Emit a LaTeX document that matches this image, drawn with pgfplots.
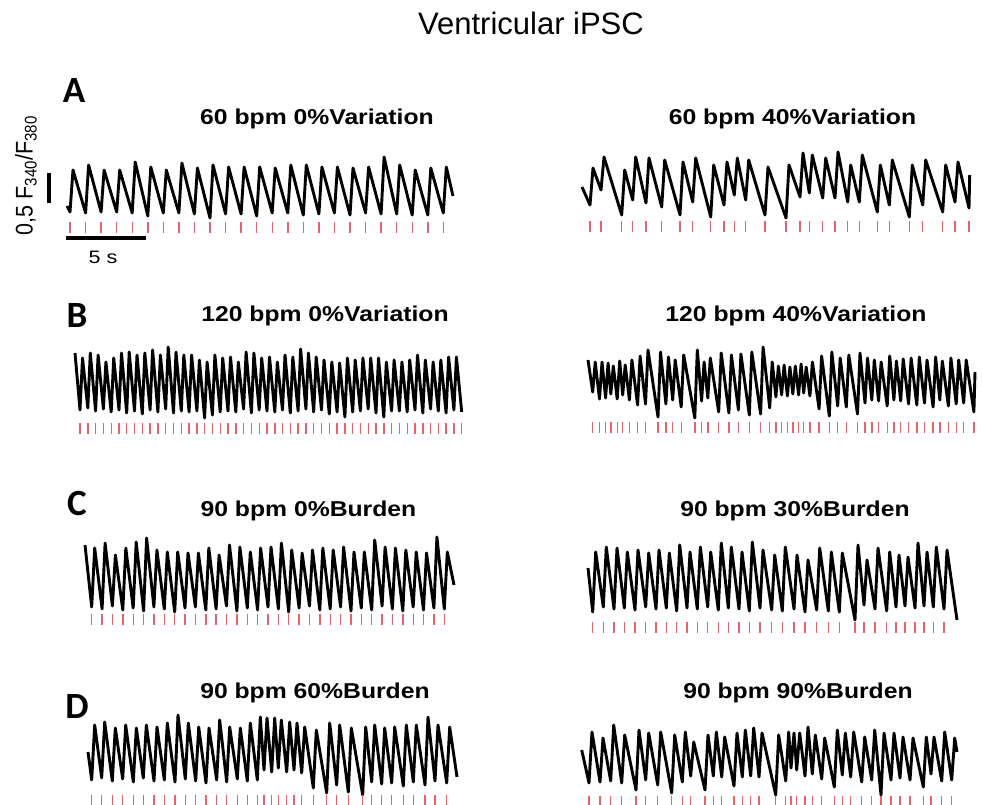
\documentclass[border=0pt]{standalone}
\usepackage{fontspec}
\setmainfont{Liberation Sans}
\newfontfamily\carlito{Carlito}
\usepackage{graphicx}
\usepackage{pgfplots}
\pgfplotsset{compat=1.18}
\definecolor{stim}{RGB}{236,98,108}

\newcommand{\ptitle}[1]{\scalebox{1.15}[1]{\fontsize{21.5bp}{24bp}\selectfont\bfseries #1}}
\newcommand{\plabel}[1]{\fontsize{37bp}{40bp}\selectfont\carlito\bfseries #1}

\pgfplotsset{
  trace/.style={black, line width=2.9bp, line join=round, mark=none},
  stimticks/.style={stim, only marks, mark=|, mark size=5.5bp, mark options={line width=1.4bp}},
}

\begin{document}
\begin{tikzpicture}
\begin{axis}[
    width=982bp, height=805bp, scale only axis,
    xmin=0, xmax=982, ymin=0, ymax=805,
    y dir=reverse, hide axis,
]

% scale bars
\addplot[black, line width=3.5bp] coordinates {(49,173) (49,203)};
\addplot[black, line width=3.5bp] coordinates {(66,238) (146,238)};

% ---- A: 60 bpm 0% variation
\addplot[trace] coordinates {
(67,206)(70,212)(73,170)(85.6,213)(88.6,165)(101.1,212)(104.1,170)(116.7,212)(119.7,170)
(132.2,213)(135.2,162)(147.8,216)(150.8,167)(163.3,213)(166.3,170)(178.9,213)(181.9,163)
(194.4,214)(197.4,168)(210,218)(213,165)(225.6,214)(228.6,167)(241.1,214)(244.1,167)
(256.7,216)(259.7,167)(272.2,213)(275.2,168)(287.8,213)(290.8,165)(303.3,215)(306.3,165)
(318.9,214)(321.9,167)(334.4,213)(337.4,167)(350,215)(353,168)(365.6,213)(368.6,167)
(381.1,214)(384.1,157)(396.7,214)(399.7,165)(412.2,215)(415.2,170)(427.8,215)(430.8,168)
(443.3,213)(446.3,167)(453,196)};
\addplot[stimticks] coordinates {
(70,227.5)(85.6,227.5)(101.1,227.5)(116.7,227.5)(132.2,227.5)(147.8,227.5)(163.3,227.5)
(178.9,227.5)(194.4,227.5)(210,227.5)(225.6,227.5)(241.1,227.5)(256.7,227.5)(272.2,227.5)
(287.8,227.5)(303.3,227.5)(318.9,227.5)(334.4,227.5)(350,227.5)(365.6,227.5)(381.1,227.5)
(396.7,227.5)(412.2,227.5)(427.8,227.5)(443.3,227.5)};

% ---- A: 60 bpm 40% variation
\addplot[trace] coordinates {
(582,187)(590,205)(593,168)(601,190)(604,157)(621.7,215)(624.7,170)(632.7,200)(635.7,157)
(646,203)(649,158)(661.7,207)(664.7,160)(680,215)(683,162)(692.7,202)(695.7,158)
(710.7,217)(713.7,165)(724,205)(727,162)(734.3,195)(737.3,158)(745.7,200)(748.7,160)
(765,215)(768,167)(786,218)(789,165)(800,197)(803,153)(809.3,193)(812.3,155)
(822.7,198)(825.7,158)(835,198)(838,152)(847.7,202)(850.7,165)(859.3,202)(862.3,155)
(877.3,212)(880.3,165)(889.3,205)(892.3,160)(909.3,217)(912.3,165)(922.7,205)(925.7,160)
(942.7,212)(945.7,165)(955,202)(958,162)(969,208)(969.7,175)};
\addplot[stimticks] coordinates {
(590,226)(601,226)(621.7,226)(632.7,226)(646,226)(661.7,226)(680,226)(692.7,226)
(710.7,226)(724,226)(734.3,226)(745.7,226)(765,226)(786,226)(800,226)(809.3,226)
(822.7,226)(835,226)(847.7,226)(859.3,226)(877.3,226)(889.3,226)(909.3,226)(922.7,226)
(942.7,226)(955,226)(969,226)};

% ---- B: 120 bpm 0% variation
\addplot[trace] coordinates {
(75,353)(80,410)(82.5,358)(87.8,408)(90.3,353)(95.6,411)(98.1,355)(103.4,409)(105.9,362)
(111.2,412)(113.7,358)(119,410)(121.5,353)(126.7,413)(129.2,352)(134.5,411)(137,355)
(142.3,414)(144.8,353)(150.1,410)(152.6,350)(157.9,412)(160.4,355)(165.7,409)(168.2,347)
(173.5,413)(176,352)(181.3,411)(183.8,355)(189.1,412)(191.6,355)(196.9,411)(199.4,360)
(204.6,418)(207.1,362)(212.4,415)(214.9,355)(220.2,412)(222.7,358)(228,411)(230.5,357)
(235.8,412)(238.3,362)(243.6,409)(246.1,352)(251.4,413)(253.9,353)(259.2,410)(261.7,358)
(267,411)(269.5,357)(274.8,412)(277.3,362)(282.5,410)(285,355)(290.3,413)(292.8,357)
(298.1,411)(300.6,349)(305.9,409)(308.4,353)(313.7,412)(316.2,357)(321.5,410)(324,360)
(329.3,414)(331.8,362)(337.1,412)(339.6,363)(344.9,417)(347.4,358)(352.7,412)(355.2,360)
(360.4,411)(362.9,358)(368.2,409)(370.7,358)(376,413)(378.5,358)(383.8,417)(386.3,362)
(391.6,411)(394.1,360)(399.4,411)(401.9,362)(407.2,412)(409.7,360)(415,410)(417.5,355)
(422.8,413)(425.3,360)(430.6,409)(433.1,362)(438.3,411)(440.8,360)(446.1,413)(448.6,357)
(453.9,410)(456.4,357)(461.7,412)};
\addplot[stimticks] coordinates {
(80,428)(87.8,428)(95.6,428)(103.4,428)(111.2,428)(119,428)(126.7,428)(134.5,428)
(142.3,428)(150.1,428)(157.9,428)(165.7,428)(173.5,428)(181.3,428)(189.1,428)(196.9,428)
(204.6,428)(212.4,428)(220.2,428)(228,428)(235.8,428)(243.6,428)(251.4,428)(259.2,428)
(267,428)(274.8,428)(282.5,428)(290.3,428)(298.1,428)(305.9,428)(313.7,428)(321.5,428)
(329.3,428)(337.1,428)(344.9,428)(352.7,428)(360.4,428)(368.2,428)(376,428)(383.8,428)
(391.6,428)(399.4,428)(407.2,428)(415,428)(422.8,428)(430.6,428)(438.3,428)(446.1,428)
(453.9,428)(461.7,428)};

% ---- B: 120 bpm 40% variation
\addplot[trace] coordinates {
(588,360)(592.7,392)(595.2,362)(599.5,399)(602,362)(605.6,398)(608.1,363)(610.8,394)(613.3,366)
(617.2,399)(619.7,361)(622.7,395)(625.2,365)(629.4,400)(631.9,360)(637.6,405)(640.1,356)
(645.5,404)(648,350)(658,417)(660.5,352)(665.9,404)(668.4,357)(672.7,400)(675.2,360)
(681.2,407)(683.7,355)(694.8,418)(697.3,350)(701.6,401)(704.1,362)(707.8,398)(710.3,358)
(718.7,412)(721.2,353)(728.9,413)(731.4,355)(738.4,410)(740.9,354)(749.3,415)(751.8,352)
(760.6,414)(763.1,347)(769.7,408)(772.2,362)(775.9,397)(778.4,366)(781.6,395)(784.1,365)
(787.4,396)(789.9,367)(792.8,394)(795.3,366)(798.6,395)(801.1,364)(803.7,393)(806.2,367)
(809.9,396)(812.4,362)(819.1,409)(821.6,356)(829.3,416)(831.8,352)(837.7,406)(840.2,358)
(846.3,407)(848.8,355)(857.5,414)(860,353)(865,403)(867.5,358)(871.8,400)(874.3,360)
(878.6,401)(881.1,362)(887.2,406)(889.7,356)(893.9,400)(896.4,361)(900.7,401)(903.2,359)
(908.6,404)(911.1,358)(916.8,405)(919.3,357)(924.5,403)(927,360)(933.1,407)(935.6,357)
(939.8,400)(942.3,361)(948.4,406)(950.9,358)(956.2,404)(958.7,360)(963.7,403)(966.2,360)
(973.9,412)(975,372)};
\addplot[stimticks] coordinates {
(592.7,427)(599.5,427)(605.6,427)(610.8,427)(617.2,427)(622.7,427)(629.4,427)(637.6,427)
(645.5,427)(658,427)(665.9,427)(672.7,427)(681.2,427)(694.8,427)(701.6,427)(707.8,427)
(718.7,427)(728.9,427)(738.4,427)(749.3,427)(760.6,427)(769.7,427)(775.9,427)(781.6,427)
(787.4,427)(792.8,427)(798.6,427)(803.7,427)(809.9,427)(819.1,427)(829.3,427)(837.7,427)
(846.3,427)(857.5,427)(865,427)(871.8,427)(878.6,427)(887.2,427)(893.9,427)(900.7,427)
(908.6,427)(916.8,427)(924.5,427)(933.1,427)(939.8,427)(948.4,427)(956.2,427)(963.7,427)
(973.9,427)};

% ---- C: 90 bpm 0% burden
\addplot[trace] coordinates {
(85,545)(91.7,607)(94.7,548)(102.1,609)(105.1,543)(112.4,606)(115.4,555)(122.8,610)(125.8,548)
(133.2,608)(136.2,542)(143.6,611)(146.6,538)(153.9,607)(156.9,550)(164.3,609)(167.3,552)
(174.7,612)(177.7,552)(185,608)(188,553)(195.4,607)(198.4,553)(205.8,610)(208.8,548)
(216.1,609)(219.1,555)(226.5,606)(229.5,545)(236.9,611)(239.9,547)(247.3,608)(250.3,552)
(257.6,610)(260.6,548)(268,607)(271,547)(278.4,609)(281.4,543)(288.7,612)(291.7,550)
(299.1,608)(302.1,553)(309.5,606)(312.5,550)(319.8,610)(322.8,548)(330.2,609)(333.2,550)
(340.6,607)(343.6,547)(351,611)(354,552)(361.3,608)(364.3,552)(371.7,610)(374.7,540)
(382.1,606)(385.1,547)(392.4,609)(395.4,548)(402.8,611)(405.8,550)(413.2,607)(416.2,552)
(423.5,610)(426.5,553)(433.9,608)(436.9,537)(444.3,609)(447.3,552)(454,585)};
\addplot[stimticks] coordinates {
(91.7,619)(102.1,619)(112.4,619)(122.8,619)(133.2,619)(143.6,619)(153.9,619)(164.3,619)
(174.7,619)(185,619)(195.4,619)(205.8,619)(216.1,619)(226.5,619)(236.9,619)(247.3,619)
(257.6,619)(268,619)(278.4,619)(288.7,619)(299.1,619)(309.5,619)(319.8,619)(330.2,619)
(340.6,619)(351,619)(361.3,619)(371.7,619)(382.1,619)(392.4,619)(402.8,619)(413.2,619)
(423.5,619)(433.9,619)(444.3,619)};

% ---- C: 90 bpm 30% burden
\addplot[trace] coordinates {
(588,568)(592.7,612)(595.7,552)(603.3,607)(606.3,547)(614,609)(617,548)(624.3,608)(627.3,552)
(635,610)(638,550)(645.7,607)(648.7,553)(656,609)(659,550)(666.3,608)(669.3,553)
(676.7,611)(679.7,545)(687,608)(690,552)(697.3,609)(700.3,547)(707.7,607)(710.7,552)
(718.3,610)(721.3,543)(728.3,608)(731.3,547)(739,609)(742,552)(749.3,611)(752.3,542)
(760,608)(763,550)(771.7,610)(774.7,555)(782.3,611)(785.3,547)(794,609)(797,555)
(805,612)(808,560)(816.7,610)(819.7,548)(828.3,611)(831.3,552)(839.3,612)(842.3,553)
(855,620)(858,545)(864,605)(867,560)(875,609)(878,548)(886.7,611)(889.7,552)
(896,607)(899,555)(905,606)(908,557)(915,608)(918,543)(924,606)(927,552)
(933.3,607)(936.3,547)(944,609)(947,550)(957,620)};
\addplot[stimticks] coordinates {
(592.7,627.5)(603.3,627.5)(614,627.5)(624.3,627.5)(635,627.5)(645.7,627.5)(656,627.5)
(666.3,627.5)(676.7,627.5)(687,627.5)(697.3,627.5)(707.7,627.5)(718.3,627.5)(728.3,627.5)
(739,627.5)(749.3,627.5)(760,627.5)(771.7,627.5)(782.3,627.5)(794,627.5)(805,627.5)
(816.7,627.5)(828.3,627.5)(839.3,627.5)(855,627.5)(864,627.5)(875,627.5)(886.7,627.5)
(896,627.5)(905,627.5)(915,627.5)(924,627.5)(933.3,627.5)(944,627.5)};

% ---- D: 90 bpm 60% burden
\addplot[trace] coordinates {
(88,752)(91.7,780)(94.7,725)(101.7,778)(104.7,722)(112.3,781)(115.3,728)(122.7,779)(125.7,725)
(133.3,782)(136.3,728)(143.3,778)(146.3,725)(154,781)(157,727)(164.3,780)(167.3,723)
(175,782)(178,715)(185.3,779)(188.3,723)(195.7,781)(198.7,727)(206,783)(209,728)
(216.7,780)(219.7,720)(226.7,782)(229.7,727)(237.3,779)(240.3,728)(247.3,781)(250.3,723)
(257.3,780)(260.3,717)(264,770)(267,718)(271.7,772)(274.7,718)(278.3,768)(281.3,720)
(286.7,772)(289.7,722)(294,770)(297,723)(301.7,773)(304.7,727)(313.3,788)(316.3,730)
(326.7,793)(329.7,723)(336.7,785)(339.7,725)(348.3,792)(351.3,728)(362.7,795)(365.7,727)
(371.7,782)(374.7,725)(381.7,784)(384.7,728)(391.7,783)(394.7,727)(403.3,786)(406.3,725)
(413.3,782)(416.3,725)(425,785)(428,717)(435,781)(438,725)(446.7,783)(449.7,727)(457,777)};
\addplot[stimticks] coordinates {
(91.7,800)(101.7,800)(112.3,800)(122.7,800)(133.3,800)(143.3,800)(154,800)(164.3,800)
(175,800)(185.3,800)(195.7,800)(206,800)(216.7,800)(226.7,800)(237.3,800)(247.3,800)
(257.3,800)(264,800)(271.7,800)(278.3,800)(286.7,800)(294,800)(301.7,800)(313.3,800)
(326.7,800)(336.7,800)(348.3,800)(362.7,800)(371.7,800)(381.7,800)(391.7,800)(403.3,800)
(413.3,800)(425,800)(435,800)(446.7,800)};

% ---- D: 90 bpm 90% burden
\addplot[trace] coordinates {
(581.7,750)(589,783)(592,732)(600,782)(603,738)(610.7,781)(613.7,725)(621.7,783)(624.7,735)
(636,790)(639,730)(645.7,780)(648.7,733)(657.7,785)(660.7,732)(671.7,793)(674.7,735)
(682.3,782)(685.3,732)(690.7,776)(693.7,742)(705,790)(708,735)(713.3,776)(716.3,732)
(721.7,777)(724.7,737)(734,786)(737,733)(742.3,777)(745.3,730)(750.7,776)(753.7,728)
(759,777)(762,733)(775.7,795)(778.7,735)(785.7,781)(788.7,732)(791,768)(794,733)
(796.7,770)(799.7,733)(805,776)(808,727)(812.3,774)(815.3,735)(821.7,779)(824.7,738)
(834.3,787)(837.3,730)(842.3,775)(845.3,733)(850.7,777)(853.7,732)(861.7,782)(864.7,737)
(871.7,780)(874.7,730)(881,795)(884,733)(891,780)(894,733)(900,778)(903,737)
(910,780)(913,738)(923.3,787)(926.3,737)(931,774)(934,737)(941.7,781)(944.7,732)
(951.7,780)(954.7,738)(957,752)};
\addplot[stimticks] coordinates {
(589,801)(600,801)(610.7,801)(621.7,801)(636,801)(645.7,801)(657.7,801)(671.7,801)
(682.3,801)(690.7,801)(705,801)(713.3,801)(721.7,801)(734,801)(742.3,801)(750.7,801)
(759,801)(775.7,801)(785.7,801)(791,801)(796.7,801)(805,801)(812.3,801)(821.7,801)
(834.3,801)(842.3,801)(850.7,801)(861.7,801)(871.7,801)(881,801)(891,801)(900,801)
(910,801)(923.3,801)(931,801)(941.7,801)(951.7,801)};

% texts
\node[anchor=base] at (axis cs:531,35) {\fontsize{31bp}{36bp}\selectfont Ventricular iPSC};
\node at (axis cs:74,91) {\plabel{A}};
\node at (axis cs:77,316) {\plabel{B}};
\node at (axis cs:77,503) {\plabel{C}};
\node at (axis cs:77,706) {\plabel{D}};
\node[anchor=base] at (axis cs:317,125) {\ptitle{60 bpm 0\%Variation}};
\node[anchor=base] at (axis cs:792.5,125) {\ptitle{60 bpm 40\%Variation}};
\node[anchor=base] at (axis cs:325,321) {\ptitle{120 bpm 0\%Variation}};
\node[anchor=base] at (axis cs:796,321) {\ptitle{120 bpm 40\%Variation}};
\node[anchor=base] at (axis cs:308.5,516.5) {\ptitle{90 bpm 0\%Burden}};
\node[anchor=base] at (axis cs:795,516.5) {\ptitle{90 bpm 30\%Burden}};
\node[anchor=base] at (axis cs:315,698) {\ptitle{90 bpm 60\%Burden}};
\node[anchor=base] at (axis cs:798,698) {\ptitle{90 bpm 90\%Burden}};
\node[anchor=base] at (axis cs:103,263) {\scalebox{1.2}[1]{\fontsize{18bp}{20bp}\selectfont 5 s}};
\node[rotate=90] at (axis cs:26,175.5) {\scalebox{1}[1.12]{\fontsize{21.5bp}{24bp}\selectfont 0,5 F\textsubscript{340}/F\textsubscript{380}}};
\end{axis}
\pgfresetboundingbox
\path (current axis.south west) rectangle (current axis.north east);
\end{tikzpicture}
\end{document}
